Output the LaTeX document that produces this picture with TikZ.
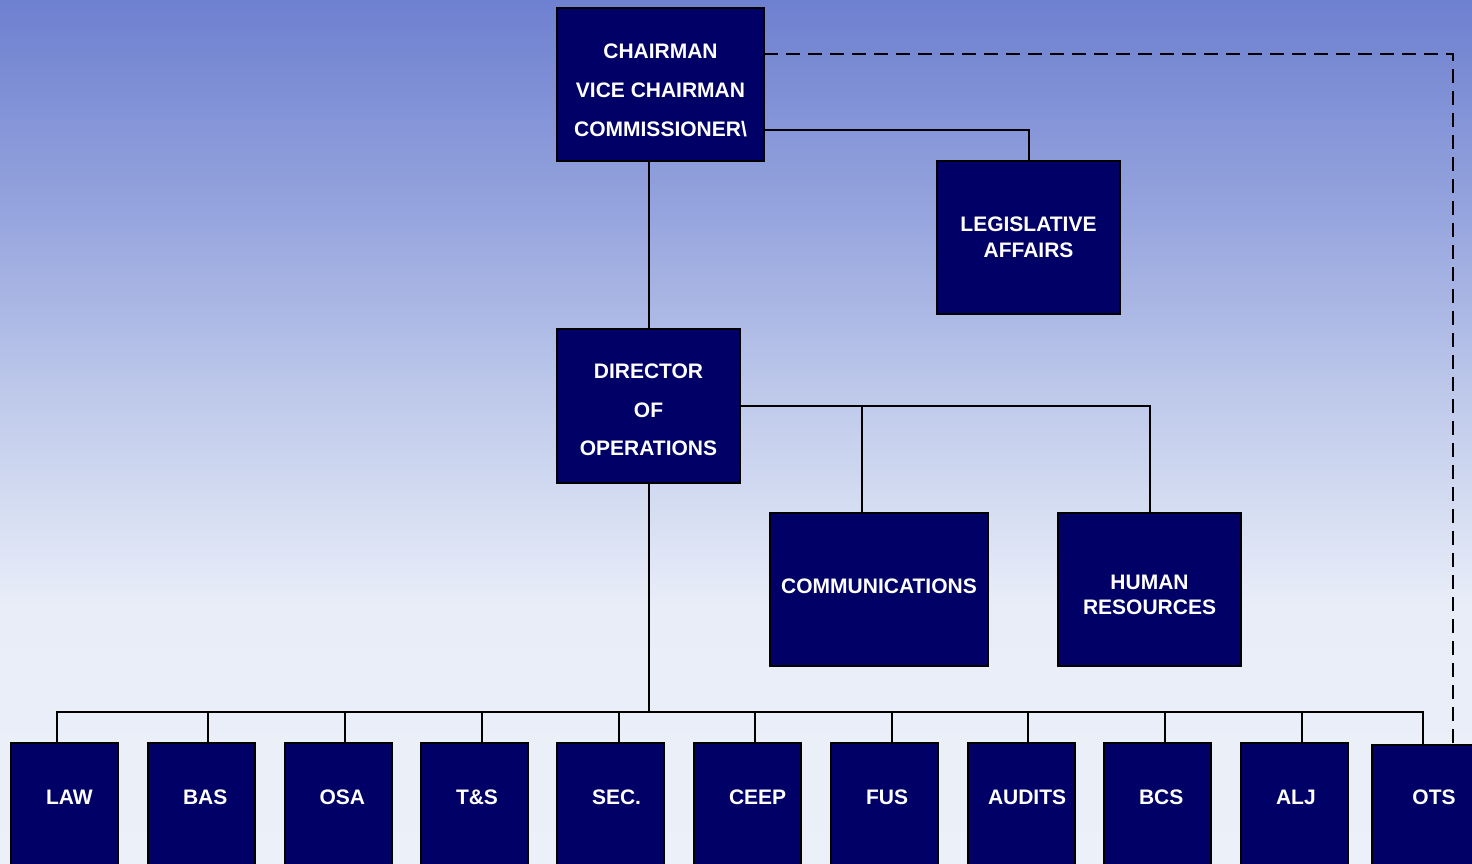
\documentclass[tikz,border=0pt]{standalone}
\usepackage{fontspec}
\setmainfont{Liberation Sans}
\definecolor{navy}{RGB}{0,0,102}
\definecolor{bgtop}{RGB}{110,128,208}
\definecolor{bgup}{RGB}{150,165,222}
\definecolor{bgmid}{RGB}{198,208,237}
\definecolor{bglow}{RGB}{232,237,248}
\definecolor{bgbot}{RGB}{236,240,248}
% TikZ maps the path onto the 25bp..75bp band of the shading
\pgfdeclareverticalshading{bgshade}{100bp}{color(0bp)=(bgbot); color(25bp)=(bgbot); color(40bp)=(bglow); color(50bp)=(bgmid); color(62.5bp)=(bgup); color(75bp)=(bgtop); color(100bp)=(bgtop)}
\tikzset{
  box/.style={draw=black, line width=2pt, fill=navy, text=white, font=\bfseries\fontsize{21}{39}\selectfont, align=center, inner sep=0pt},
  low/.style={box, minimum width=107pt, anchor=north, text height=61.5pt, text depth=78.5pt},
  link/.style={draw=black, line width=2pt},
  dashlink/.style={draw=black, line width=2pt, dash pattern=on 14pt off 8pt}
}
\newcommand{\lft}[1]{\makebox[37pt][l]{#1}}
\begin{document}
\begin{tikzpicture}[x=1pt,y=-1pt]
\useasboundingbox (0,0) rectangle (1472,863);
\clip (0,0) rectangle (1472,863);
\shade[shading=bgshade] (0,0) rectangle (1472,863);

% upper boxes
\node[box, minimum width=207pt, minimum height=153pt] (chair) at (660.5,84.5) {\rule{0pt}{27pt}CHAIRMAN\\VICE CHAIRMAN\\COMMISSIONER\textbackslash};
\node[box, minimum width=183pt, minimum height=153pt, font=\bfseries\fontsize{21}{26}\selectfont] (leg) at (1028.5,237.5) {LEGISLATIVE\\AFFAIRS};
\node[box, minimum width=183pt, minimum height=154pt, font=\bfseries\fontsize{21}{38.5}\selectfont] (dir) at (648.5,406) {\rule{0pt}{23pt}DIRECTOR\\OF\\OPERATIONS};
\node[box, minimum width=218pt, minimum height=153pt] (comm) at (879,589.5) {COMMUNICATIONS\rule[-6pt]{0pt}{6pt}};
\node[box, minimum width=183pt, minimum height=153pt, font=\bfseries\fontsize{21}{25}\selectfont] (hr) at (1149.5,589.5) {\rule{0pt}{25pt}HUMAN\\RESOURCES};

% bottom row
\node[low] (law) at (64.5,742) {\lft{LAW}};
\node[low] (bas) at (201.5,742) {\lft{BAS}};
\node[low] (osa) at (338,742) {\lft{OSA}};
\node[low] (ts) at (474.5,742) {\lft{T\&S}};
\node[low] (sec) at (610.5,742) {\lft{SEC.}};
\node[low] (ceep) at (747.5,742) {\lft{CEEP}};
\node[low] (fus) at (884.5,742) {\lft{FUS}};
\node[low] (aud) at (1021.5,742) {\lft{\hspace*{-15pt}AUDITS}};
\node[low] (bcs) at (1157.5,742) {\lft{BCS}};
\node[low] (alj) at (1294.5,742) {\lft{ALJ}};
\node[low, minimum width=124pt, text height=59.5pt] (ots) at (1434,744) {OTS};

% connectors
\coordinate (cdash) at (764,54);
\coordinate (dashc) at (1453,54);
\draw[dashlink] (cdash) -- (dashc) -- (dashc |- ots.north);

\coordinate (clegis) at (764,130);
\draw[link] (clegis) -| (leg.north);

\coordinate (chb) at (649,161);
\draw[link] (chb) -- (chb |- dir.north);

\coordinate (dright) at (740,406);
\coordinate (jcomm) at (862,406);
\coordinate (jhr) at (1150,406);
\draw[link] (dright) -- (jhr) -- (jhr |- hr.north);
\draw[link] (jcomm) -- (jcomm |- comm.north);

\coordinate (dbot) at (649,483);
\coordinate (bus) at (649,712);
\draw[link] (dbot) -- (bus);
\coordinate (b1) at (57,712);
\coordinate (b2) at (208,712);
\coordinate (b3) at (345,712);
\coordinate (b4) at (482,712);
\coordinate (b5) at (619,712);
\coordinate (b6) at (755,712);
\coordinate (b7) at (892,712);
\coordinate (b8) at (1028,712);
\coordinate (b9) at (1165,712);
\coordinate (b10) at (1302,712);
\coordinate (b11) at (1423,712);
\draw[link] (b1 |- law.north) -- (b1) -- (b11) -- (b11 |- ots.north);
\draw[link] (b2) -- (b2 |- bas.north);
\draw[link] (b3) -- (b3 |- osa.north);
\draw[link] (b4) -- (b4 |- ts.north);
\draw[link] (b5) -- (b5 |- sec.north);
\draw[link] (b6) -- (b6 |- ceep.north);
\draw[link] (b7) -- (b7 |- fus.north);
\draw[link] (b8) -- (b8 |- aud.north);
\draw[link] (b9) -- (b9 |- bcs.north);
\draw[link] (b10) -- (b10 |- alj.north);
\end{tikzpicture}
\end{document}
